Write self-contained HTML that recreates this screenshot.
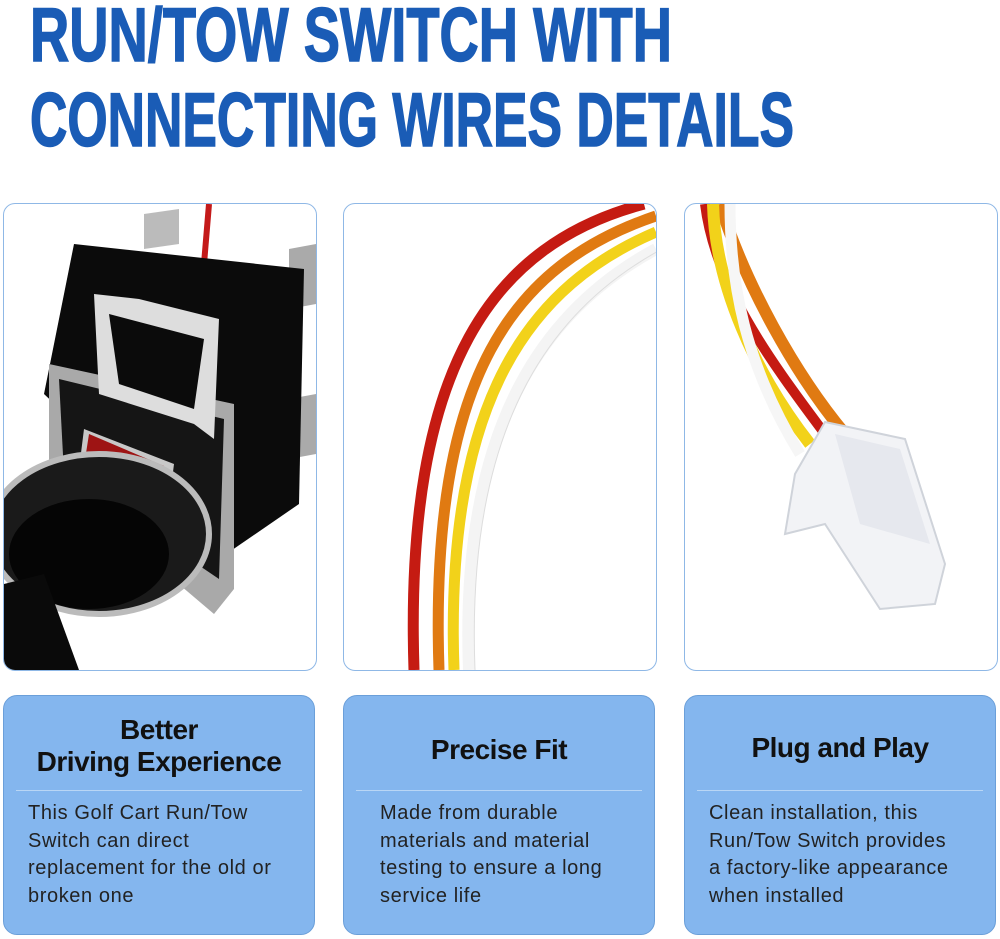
<!DOCTYPE html>
<html><head><meta charset="utf-8"><style>
body{margin:0;width:1000px;height:939px;background:#fff;position:relative;overflow:hidden;font-family:"Liberation Sans",sans-serif}
.panel{position:absolute;top:203px;width:312px;height:466px;border:1.5px solid #8fb8e6;border-radius:12px;overflow:hidden;background:#fff}
.card{position:absolute;top:695px;width:312px;height:240px;background:#84b6ee;border:1.5px solid #6b9fd9;border-radius:14px;box-sizing:border-box}
.card h3{margin:0;position:absolute;left:0;right:0;text-align:center;font-weight:bold;color:#111;font-size:28px;line-height:32px;letter-spacing:-0.5px}
.card .hr{position:absolute;left:12px;right:12px;top:94px;height:1px;background:#b9d6f5}
.card p{position:absolute;left:24px;top:104px;margin:0;font-size:20px;line-height:27.5px;color:#222;letter-spacing:0.6px}
</style></head><body>
<svg style="position:absolute;left:0;top:0" width="1000" height="160">
<text x="30" y="61" font-family="Liberation Sans" font-weight="bold" font-size="76" fill="#1a5cb6" stroke="#1a5cb6" stroke-width="1.5" textLength="642" lengthAdjust="spacingAndGlyphs">RUN/TOW SWITCH WITH</text>
<text x="30" y="146" font-family="Liberation Sans" font-weight="bold" font-size="76" fill="#1a5cb6" stroke="#1a5cb6" stroke-width="1.5" textLength="764" lengthAdjust="spacingAndGlyphs">CONNECTING WIRES DETAILS</text>
</svg>

<div class="panel" style="left:3px">
<svg width="312" height="466">
<path d="M205 0 L200 60" stroke="#c41a1a" stroke-width="6"/>
<polygon points="140,10 175,5 175,40 140,45" fill="#bbb"/>
<polygon points="285,45 312,40 312,100 285,105" fill="#aaa"/>
<polygon points="285,195 312,190 312,250 285,255" fill="#aaa"/>
<polygon points="70,40 300,65 295,300 215,355 40,190" fill="#0b0b0b"/>
<polygon points="45,160 230,200 230,385 210,410 45,270" fill="#a9a9a9"/>
<polygon points="55,175 220,215 215,375 60,270" fill="#151515"/>
<polygon points="90,90 135,95 215,115 210,235 190,220 95,190" fill="#ddd"/>
<polygon points="105,110 200,135 190,205 115,180" fill="#0b0b0b"/>
<polygon points="80,225 170,260 165,300 75,265" fill="#c8c8c8"/>
<polygon points="85,230 160,262 155,292 80,262" fill="#9e1414"/>
<text x="98" y="270" font-size="26" font-weight="bold" fill="#eee" transform="rotate(15 120 260)">ON</text>
<ellipse cx="95" cy="330" rx="110" ry="80" fill="#1a1a1a" stroke="#bbb" stroke-width="6"/>
<ellipse cx="85" cy="350" rx="80" ry="55" fill="#050505"/>
<polygon points="0,380 40,370 75,466 0,466" fill="#0a0a0a"/>
</svg></div>

<div class="panel" style="left:343px">
<svg width="312" height="466">
<path d="M300 0 C150 40 60 160 70 466" stroke="#c51b12" stroke-width="11" fill="none"/>
<path d="M312 12 C170 60 85 170 95 466" stroke="#e07a12" stroke-width="11" fill="none"/>
<path d="M312 28 C190 80 100 190 110 466" stroke="#f2d21a" stroke-width="11" fill="none"/>
<path d="M312 45 C210 100 115 210 125 466" stroke="#f4f4f4" stroke-width="12" fill="none"/>
<path d="M312 45 C210 100 115 210 125 466" stroke="#ddd" stroke-width="1" fill="none" transform="translate(6,0)"/>
</svg></div>

<div class="panel" style="left:684px">
<svg width="312" height="466">
<path d="M20 0 C30 80 80 150 140 230" stroke="#c51b12" stroke-width="10" fill="none"/>
<path d="M35 0 C60 80 110 170 160 230" stroke="#e07a12" stroke-width="12" fill="none"/>
<path d="M28 0 C30 80 70 170 125 240" stroke="#f2d21a" stroke-width="12" fill="none"/>
<path d="M45 0 C45 80 60 160 115 250" stroke="#f6f6f6" stroke-width="11" fill="none"/>
<polygon points="140,218 220,235 260,360 250,400 195,405 140,320 100,330 110,270" fill="#f2f3f6" stroke="#cfd3da" stroke-width="2"/>
<polygon points="150,230 215,245 245,340 175,320" fill="#e6e8ee"/>
</svg></div>

<div class="card" style="left:3px"><h3 style="top:18px">Better<br>Driving Experience</h3><div class="hr"></div>
<p>This Golf Cart Run/Tow<br>Switch can direct<br>replacement for the old or<br>broken one</p></div>
<div class="card" style="left:343px"><h3 style="top:38px">Precise Fit</h3><div class="hr"></div>
<p style="left:36px">Made from durable<br>materials and material<br>testing to ensure a long<br>service life</p></div>
<div class="card" style="left:684px"><h3 style="top:36px">Plug and Play</h3><div class="hr"></div>
<p>Clean installation, this<br>Run/Tow Switch provides<br>a factory-like appearance<br>when installed</p></div>
</body></html>
